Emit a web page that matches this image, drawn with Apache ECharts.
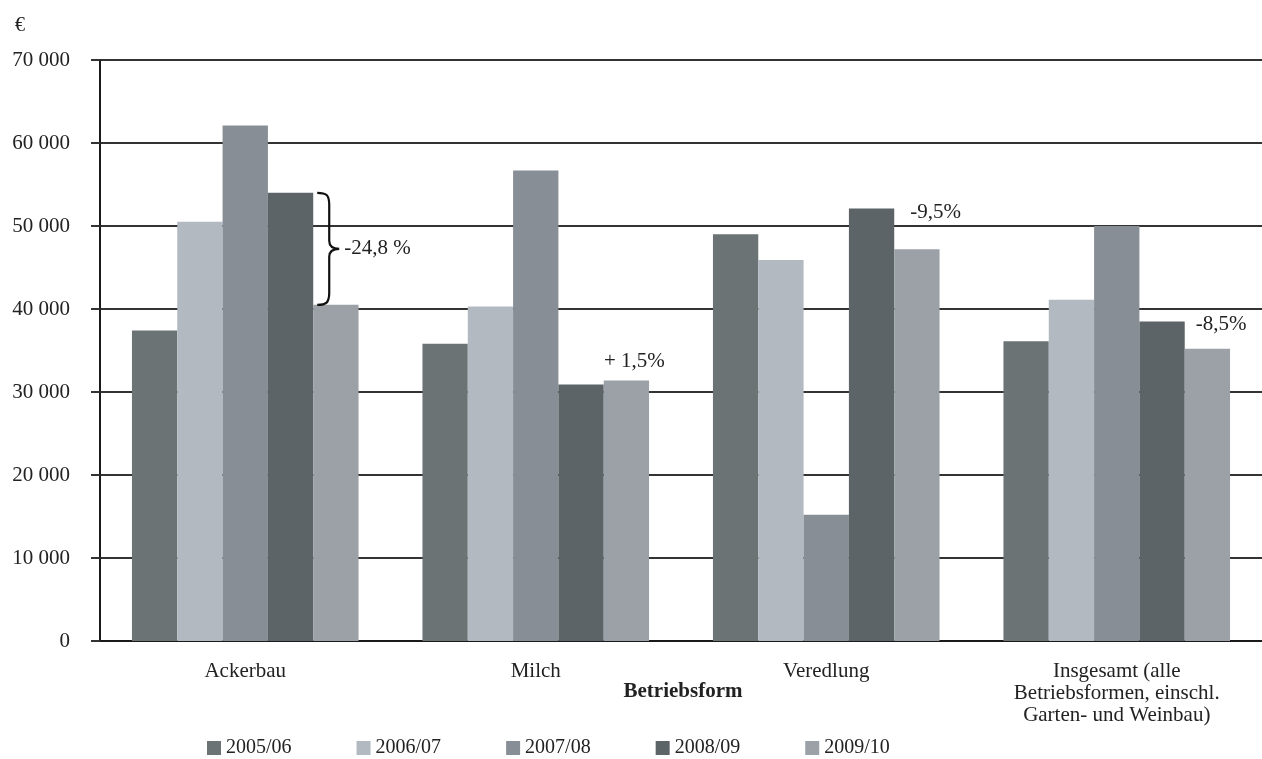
<!DOCTYPE html>
<html>
<head>
<meta charset="utf-8">
<script src="https://cdn.jsdelivr.net/npm/echarts@6/dist/echarts.min.js"></script>
<style>html,body{margin:0;padding:0;background:#fff}#c{width:1262px;height:759px}</style>
</head>
<body>
<div id="c"></div>
<script>
const categories = ['Ackerbau', 'Milch', 'Veredlung', 'Insgesamt (alle\nBetriebsformen, einschl.\nGarten- und Weinbau)'];
const seriesNames = ['2005/06', '2006/07', '2007/08', '2008/09', '2009/10'];
const v0506 = [37400, 35800, 49000, 36100];
const v0607 = [50500, 40300, 45900, 41100];
const v0708 = [62100, 56700, 15200, 50000];
const v0809 = [54000, 30900, 52100, 38500];
const v0910 = [40500, 31400, 47200, 35200];
const yTicks = [0, 10000, 20000, 30000, 40000, 50000, 60000, 70000];
const changeLabels = ['-24,8 %', '+ 1,5%', '-9,5%', '-8,5%'];

const colors = ['#6b7375', '#b3b9c0', '#878e95', '#5d6467', '#9ba1a7'];
const FONT = 'Liberation Serif';
const barGapPct = 0.22;
const values = [v0506, v0607, v0708, v0809, v0910];

function fmt(v){ return String(v).replace(/\B(?=(\d{3})+(?!\d))/g, ' '); }

const labelStyle = {show: true, fontFamily: FONT, fontSize: 21, color: '#222'};

const barSeries = seriesNames.map((name, si) => ({
  name, type: 'bar',
  barGap: '0%', barCategoryGap: (barGapPct*100) + '%',
  itemStyle: {color: colors[si]},
  data: values[si].map((v, ci) => {
    const item = {value: v};
    if (si === 4 && ci === 1) {
      item.label = Object.assign({}, labelStyle, {position: 'top', distance: 8, offset: [8, 0], formatter: changeLabels[1]});
    }
    if (si === 3 && (ci === 2 || ci === 3)) {
      item.label = Object.assign({}, labelStyle, {position: ['100%', 0], offset: [ci === 2 ? 16 : 11, -7], align: 'left', verticalAlign: 'top', formatter: changeLabels[ci]});
    }
    return item;
  })
}));

const braceSeries = {
  type: 'custom', silent: true, z: 5,
  data: [[0, v0809[0], v0910[0]]],
  encode: {x: 0, y: 1},
  renderItem: function(params, api){
    const ci = api.value(0);
    const pTop = api.coord([ci, api.value(1)]);
    const pBot = api.coord([ci, api.value(2)]);
    const band = api.size([1, 0])[0];
    const bw = band * (1 - barGapPct) / 5;
    const x0 = pTop[0] + 1.5 * bw + 4;
    const yT = pTop[1], yB = pBot[1], yM = (yT + yB) / 2;
    const xv = x0 + 12, xt = x0 + 22;
    const d = `M ${x0} ${yT} C ${x0+9} ${yT} ${xv} ${yT+2} ${xv} ${yT+12} L ${xv} ${yM-8} C ${xv} ${yM-2} ${xv+4} ${yM} ${xt} ${yM} C ${xv+4} ${yM} ${xv} ${yM+2} ${xv} ${yM+8} L ${xv} ${yB-12} C ${xv} ${yB-2} ${x0+9} ${yB} ${x0} ${yB}`;
    return {
      type: 'group',
      children: [
        {type: 'path', shape: {pathData: d}, style: {stroke: '#111', fill: 'none', lineWidth: 2.2}},
        {type: 'text', style: {text: changeLabels[0], x: xt + 5, y: yM, textAlign: 'left', textVerticalAlign: 'middle', font: '21px "Liberation Serif"', fill: '#222'}}
      ]
    };
  }
};

const chart = echarts.init(document.getElementById('c'), null, {renderer: 'canvas'});
chart.setOption({
  animation: false,
  backgroundColor: '#fff',
  title: {text: '€', left: 10, top: 11, textStyle: {fontFamily: FONT, fontSize: 20, fontWeight: 'normal', color: '#222'}},
  graphic: [{
    type: 'text', x: 683, y: 692,
    style: {text: 'Betriebsform', font: 'bold 21px "Liberation Serif"', fill: '#222', textAlign: 'center', textVerticalAlign: 'middle'}
  }],
  grid: {left: 100, right: 0, top: 60, bottom: 118, containLabel: false},
  legend: {
    data: seriesNames, left: 202, top: 733, itemWidth: 14, itemHeight: 14, itemGap: 65,
    icon: 'rect',
    textStyle: {fontFamily: FONT, fontSize: 20, color: '#222'}
  },
  xAxis: {
    type: 'category', data: categories,
    axisLine: {lineStyle: {color: '#1a1a1a', width: 2}},
    axisTick: {show: false},
    axisLabel: {fontFamily: FONT, fontSize: 21, color: '#222', margin: 19, lineHeight: 22, interval: 0}
  },
  yAxis: {
    type: 'value', min: yTicks[0], max: yTicks[yTicks.length-1], interval: yTicks[1] - yTicks[0],
    axisLine: {show: true, lineStyle: {color: '#1a1a1a', width: 2}},
    axisTick: {show: true, length: 9, lineStyle: {color: '#333', width: 2}},
    splitLine: {lineStyle: {color: '#333', width: 2}},
    axisLabel: {fontFamily: FONT, fontSize: 21, color: '#222', margin: 30, formatter: fmt}
  },
  series: barSeries.concat([braceSeries])
});
</script>
</body>
</html>
